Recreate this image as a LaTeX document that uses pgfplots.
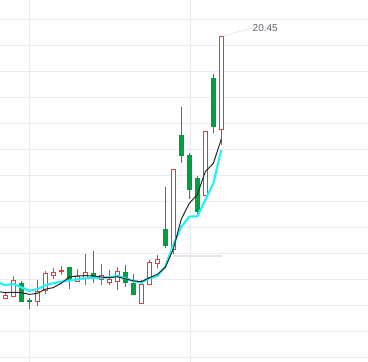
\documentclass[border=0pt]{standalone}
\usepackage{pgfplots}
\pgfplotsset{compat=1.18}
\usepackage{fontspec}
\setmainfont{Liberation Sans}
\definecolor{cred}{RGB}{232,58,58}
\definecolor{cgreen}{RGB}{0,160,64}
\definecolor{gridc}{RGB}{233,236,241}
\definecolor{cyanl}{RGB}{40,240,250}
\definecolor{markc}{RGB}{226,229,234}
\definecolor{labelc}{RGB}{95,97,105}
% \candle{colour}{hollow 1/0}{index}{open}{high}{low}{close}
\newcommand{\candle}[7]{%
  \pgfmathsetmacro\xl{#3-0.3125}\pgfmathsetmacro\xr{#3+0.3125}%
  \pgfmathsetmacro\xil{#3-0.1875}\pgfmathsetmacro\xir{#3+0.1875}%
  \pgfmathsetmacro\bt{max(#4,#7)+0.0192}\pgfmathsetmacro\bb{min(#4,#7)-0.0192}%
  \pgfmathsetmacro\it{max(#4,#7)-0.0192}\pgfmathsetmacro\ib{min(#4,#7)+0.0192}%
  \pgfmathtruncatemacro\hasinner{(#2==1)&&((max(#4,#7)-min(#4,#7))>0.045)}%
  \edef\tmp{%
    \noexpand\addplot[draw=#1, line width=1pt, mark=none] coordinates {(#3,#6) (#3,#5)};
    \noexpand\addplot[fill=#1, draw=none, mark=none] coordinates {(\xl,\bb) (\xr,\bb) (\xr,\bt) (\xl,\bt)};
  }\tmp
  \ifnum\hasinner=1
  \edef\tmp{%
    \noexpand\addplot[fill=white, draw=none, mark=none] coordinates {(\xil,\ib) (\xir,\ib) (\xir,\it) (\xil,\it)};
  }\tmp
  \fi}
\newcommand{\up}[5]{\candle{cred}{1}{#1}{#2}{#3}{#4}{#5}}
\newcommand{\dn}[5]{\candle{cgreen}{0}{#1}{#2}{#3}{#4}{#5}}
\begin{document}
\begin{tikzpicture}
\begin{axis}[
  at={(0,0)}, anchor=south west,
  width=368pt, height=362pt, scale only axis,
  xmin=-0.6625, xmax=45.3375, ymin=7.95, ymax=21.873,
  axis line style={draw=none},
  xtick={3.05,23.175},
  ytick={8.131,9.131,10.131,11.131,12.131,13.131,14.131,15.131,16.131,17.131,18.131,19.131,20.131,21.131},
  xticklabel=\empty, yticklabel=\empty,
  tick style={draw=none},
  grid=major, major grid style={draw=gridc, line width=1pt},
  clip=true]
% index, open, high, low, close
\up{0}{10.41}{10.64}{10.39}{10.49}
\up{1}{10.47}{11.27}{10.47}{11.09}
\dn{2}{10.95}{11.07}{10.25}{10.29}
\dn{3}{10.30}{10.41}{10.00}{10.28}
\up{4}{10.28}{11.09}{10.12}{10.68}
\up{5}{10.70}{11.45}{10.57}{11.36}
\up{6}{11.28}{11.57}{11.14}{11.40}
\up{7}{11.44}{11.66}{11.30}{11.46}
\dn{8}{11.57}{11.57}{10.75}{11.13}
\up{9}{11.03}{11.52}{11.01}{11.22}
\up{10}{11.15}{12.10}{10.91}{11.40}
\dn{11}{11.34}{12.23}{10.97}{11.23}
\up{12}{11.14}{11.70}{10.91}{11.28}
\up{13}{11.01}{11.47}{10.92}{11.13}
\up{14}{11.03}{11.62}{10.70}{11.43}
\dn{15}{11.40}{11.67}{10.85}{11.00}
\dn{16}{10.98}{11.35}{10.51}{10.55}
\up{17}{10.21}{11.09}{10.21}{10.94}
\up{18}{10.94}{11.89}{10.94}{11.79}
\up{19}{11.74}{12.05}{11.55}{11.90}
\dn{20}{13.03}{14.69}{12.32}{12.42}
\up{21}{12.29}{15.36}{12.09}{15.36}
\dn{22}{16.68}{17.76}{15.62}{15.89}
\dn{23}{15.91}{16.00}{14.22}{14.57}
\dn{24}{15.02}{15.12}{13.64}{13.73}
\up{25}{14.35}{16.82}{14.35}{16.82}
\dn{26}{18.86}{19.03}{16.77}{17.00}
\up{27}{16.90}{20.45}{16.30}{20.45}
% long moving average (cyan)
\addplot[draw=cyanl, line width=2.2pt, mark=none] coordinates {
(-1,11.01) (0,10.91) (1,10.95) (2,10.82) (3,10.69) (4,10.75) (5,10.90) (6,10.98)
(7,11.04) (8,11.08) (9,11.13) (10,11.17) (11,11.19) (12,11.19) (13,11.21) (14,11.26)
(15,11.17) (16,11.07) (17,11.00) (18,11.17) (19,11.26) (20,11.62) (21,12.45) (22,13.15)
(23,13.54) (24,13.55) (25,14.18) (26,14.82) (27,16.10)};
% short moving average (black)
\addplot[draw=black!85, line width=1pt, mark=none] coordinates {
(-1,10.66) (0,10.62) (1,10.63) (2,10.62) (3,10.55) (4,10.59) (5,10.75) (6,10.81)
(7,10.98) (8,11.22) (9,11.26) (10,11.27) (11,11.26) (12,11.22) (13,11.19) (14,11.23)
(15,11.15) (16,11.07) (17,11.04) (18,11.19) (19,11.32) (20,11.59) (21,12.29) (22,13.45)
(23,14.05) (24,14.39) (25,15.27) (26,15.59) (27,16.52)};
% marker line
\addplot[draw=markc, line width=2pt, mark=none] coordinates {(21.08,12.03) (27.09,12.03)};
% leader line to max label
\addplot[draw=markc, line width=0.7pt, mark=none] coordinates {(27.2,20.49) (30.85,20.785)};
\node[anchor=west, inner sep=0pt, text=labelc, font=\fontsize{10}{12}\selectfont] at (axis cs:30.9,20.785) {20.45};
\end{axis}
\pgfresetboundingbox
\path (0,0) rectangle (368pt,362pt);
\end{tikzpicture}
\end{document}
